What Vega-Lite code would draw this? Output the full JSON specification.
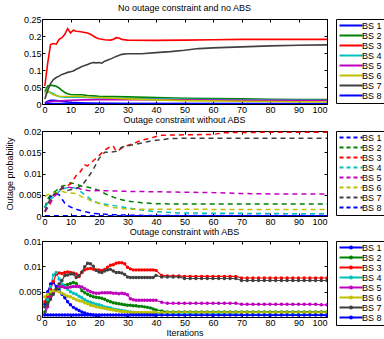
{
"$schema":"https://vega.github.io/schema/vega-lite/v6.json",
"padding":{"left":4,"top":3,"right":0,"bottom":0},
"spacing":0,
"config":{
 "font":"Liberation Sans",
 "view":{"stroke":"black","strokeWidth":1},
 "axis":{"domain":false,"grid":false,"tickColor":"black","tickSize":-3,"labelFontSize":9,"labelColor":"black","labelPadding":4,"titleFontSize":9,"titleFontWeight":"normal","titleColor":"black"},
 "title":{"fontSize":9,"fontWeight":"normal","offset":2,"color":"black","anchor":"middle"},
 "legend":{"orient":"right","offset":8,"padding":2,"strokeColor":"black","strokeWidth":1,"labelFontSize":9,"labelColor":"black","rowPadding":-1,"symbolSize":36,"symbolStrokeWidth":2,"labelOffset":15}
},
"resolve":{"scale":{"color":"independent","x":"independent","y":"independent"},"legend":{"color":"independent"}},
"datasets":{
"p1":[
{"s":1,"i":1,"v":0.003},{"s":1,"i":2,"v":0.008},{"s":1,"i":3,"v":0.011},{"s":1,"i":4,"v":0.011},{"s":1,"i":5,"v":0.01},{"s":1,"i":6,"v":0.009},{"s":1,"i":8,"v":0.007},{"s":1,"i":10,"v":0.005},{"s":1,"i":12,"v":0.004},{"s":1,"i":15,"v":0.003},{"s":1,"i":20,"v":0.002},{"s":1,"i":30,"v":0.0015},{"s":1,"i":100,"v":0.0015},
{"s":2,"i":1,"v":0.036},{"s":2,"i":2,"v":0.053},{"s":2,"i":3,"v":0.055},{"s":2,"i":4,"v":0.054},{"s":2,"i":5,"v":0.052},{"s":2,"i":6,"v":0.047},{"s":2,"i":7,"v":0.04},{"s":2,"i":8,"v":0.034},{"s":2,"i":9,"v":0.03},{"s":2,"i":10,"v":0.028},{"s":2,"i":12,"v":0.027},{"s":2,"i":14,"v":0.027},{"s":2,"i":16,"v":0.025},{"s":2,"i":18,"v":0.024},{"s":2,"i":20,"v":0.023},{"s":2,"i":25,"v":0.022},{"s":2,"i":30,"v":0.021},{"s":2,"i":40,"v":0.019},{"s":2,"i":50,"v":0.017},{"s":2,"i":60,"v":0.016},{"s":2,"i":70,"v":0.015},{"s":2,"i":80,"v":0.014},{"s":2,"i":90,"v":0.013},{"s":2,"i":100,"v":0.013},
{"s":3,"i":1,"v":0.053},{"s":3,"i":2,"v":0.12},{"s":3,"i":3,"v":0.175},{"s":3,"i":4,"v":0.178},{"s":3,"i":5,"v":0.176},{"s":3,"i":6,"v":0.19},{"s":3,"i":7,"v":0.195},{"s":3,"i":8,"v":0.205},{"s":3,"i":9,"v":0.222},{"s":3,"i":10,"v":0.209},{"s":3,"i":11,"v":0.217},{"s":3,"i":12,"v":0.214},{"s":3,"i":13,"v":0.213},{"s":3,"i":14,"v":0.212},{"s":3,"i":16,"v":0.209},{"s":3,"i":17,"v":0.205},{"s":3,"i":18,"v":0.2},{"s":3,"i":19,"v":0.195},{"s":3,"i":20,"v":0.192},{"s":3,"i":22,"v":0.189},{"s":3,"i":24,"v":0.188},{"s":3,"i":25,"v":0.19},{"s":3,"i":26,"v":0.195},{"s":3,"i":27,"v":0.194},{"s":3,"i":28,"v":0.19},{"s":3,"i":30,"v":0.188},{"s":3,"i":40,"v":0.187},{"s":3,"i":50,"v":0.188},{"s":3,"i":60,"v":0.189},{"s":3,"i":70,"v":0.19},{"s":3,"i":100,"v":0.19},
{"s":4,"i":1,"v":0.03},{"s":4,"i":2,"v":0.038},{"s":4,"i":3,"v":0.034},{"s":4,"i":4,"v":0.03},{"s":4,"i":5,"v":0.025},{"s":4,"i":6,"v":0.022},{"s":4,"i":8,"v":0.02},{"s":4,"i":10,"v":0.02},{"s":4,"i":14,"v":0.02},{"s":4,"i":20,"v":0.018},{"s":4,"i":30,"v":0.016},{"s":4,"i":40,"v":0.015},{"s":4,"i":50,"v":0.014},{"s":4,"i":70,"v":0.012},{"s":4,"i":100,"v":0.011},
{"s":5,"i":1,"v":0.003},{"s":5,"i":2,"v":0.005},{"s":5,"i":3,"v":0.007},{"s":5,"i":4,"v":0.008},{"s":5,"i":5,"v":0.009},{"s":5,"i":6,"v":0.009},{"s":5,"i":8,"v":0.01},{"s":5,"i":10,"v":0.011},{"s":5,"i":14,"v":0.012},{"s":5,"i":20,"v":0.013},{"s":5,"i":30,"v":0.013},{"s":5,"i":40,"v":0.013},{"s":5,"i":50,"v":0.012},{"s":5,"i":70,"v":0.011},{"s":5,"i":100,"v":0.0105},
{"s":6,"i":1,"v":0.03},{"s":6,"i":2,"v":0.04},{"s":6,"i":3,"v":0.032},{"s":6,"i":4,"v":0.027},{"s":6,"i":5,"v":0.025},{"s":6,"i":6,"v":0.023},{"s":6,"i":8,"v":0.022},{"s":6,"i":10,"v":0.022},{"s":6,"i":12,"v":0.023},{"s":6,"i":14,"v":0.022},{"s":6,"i":16,"v":0.02},{"s":6,"i":20,"v":0.019},{"s":6,"i":30,"v":0.015},{"s":6,"i":40,"v":0.012},{"s":6,"i":50,"v":0.01},{"s":6,"i":70,"v":0.008},{"s":6,"i":100,"v":0.006},
{"s":7,"i":1,"v":0.015},{"s":7,"i":2,"v":0.04},{"s":7,"i":3,"v":0.06},{"s":7,"i":4,"v":0.072},{"s":7,"i":5,"v":0.078},{"s":7,"i":6,"v":0.082},{"s":7,"i":7,"v":0.087},{"s":7,"i":8,"v":0.09},{"s":7,"i":9,"v":0.093},{"s":7,"i":10,"v":0.095},{"s":7,"i":11,"v":0.097},{"s":7,"i":12,"v":0.102},{"s":7,"i":13,"v":0.106},{"s":7,"i":14,"v":0.11},{"s":7,"i":15,"v":0.113},{"s":7,"i":16,"v":0.116},{"s":7,"i":17,"v":0.12},{"s":7,"i":18,"v":0.122},{"s":7,"i":19,"v":0.121},{"s":7,"i":20,"v":0.122},{"s":7,"i":21,"v":0.12},{"s":7,"i":22,"v":0.126},{"s":7,"i":24,"v":0.132},{"s":7,"i":26,"v":0.14},{"s":7,"i":28,"v":0.146},{"s":7,"i":30,"v":0.148},{"s":7,"i":35,"v":0.148},{"s":7,"i":40,"v":0.151},{"s":7,"i":45,"v":0.154},{"s":7,"i":50,"v":0.158},{"s":7,"i":55,"v":0.163},{"s":7,"i":60,"v":0.165},{"s":7,"i":70,"v":0.168},{"s":7,"i":80,"v":0.171},{"s":7,"i":90,"v":0.173},{"s":7,"i":100,"v":0.174},
{"s":8,"i":1,"v":0.001},{"s":8,"i":10,"v":0.001},{"s":8,"i":100,"v":0.0008}
],
"p2":[
{"s":1,"i":1,"v":0.002},{"s":1,"i":2,"v":0.0035},{"s":1,"i":3,"v":0.0045},{"s":1,"i":4,"v":0.005},{"s":1,"i":5,"v":0.0052},{"s":1,"i":6,"v":0.005},{"s":1,"i":7,"v":0.004},{"s":1,"i":8,"v":0.003},{"s":1,"i":9,"v":0.0025},{"s":1,"i":10,"v":0.0021},{"s":1,"i":12,"v":0.0016},{"s":1,"i":14,"v":0.0012},{"s":1,"i":16,"v":0.0009},{"s":1,"i":18,"v":0.0006},{"s":1,"i":20,"v":0.0005},{"s":1,"i":25,"v":0.0003},{"s":1,"i":30,"v":0.0002},{"s":1,"i":40,"v":0.0001},{"s":1,"i":100,"v":0.0001},
{"s":2,"i":1,"v":0.002},{"s":2,"i":2,"v":0.004},{"s":2,"i":3,"v":0.005},{"s":2,"i":4,"v":0.0055},{"s":2,"i":5,"v":0.006},{"s":2,"i":6,"v":0.0065},{"s":2,"i":7,"v":0.007},{"s":2,"i":8,"v":0.0072},{"s":2,"i":9,"v":0.0075},{"s":2,"i":10,"v":0.0078},{"s":2,"i":12,"v":0.0075},{"s":2,"i":14,"v":0.007},{"s":2,"i":16,"v":0.0068},{"s":2,"i":18,"v":0.0065},{"s":2,"i":20,"v":0.006},{"s":2,"i":22,"v":0.0053},{"s":2,"i":24,"v":0.0047},{"s":2,"i":26,"v":0.0042},{"s":2,"i":28,"v":0.0038},{"s":2,"i":30,"v":0.0035},{"s":2,"i":35,"v":0.0031},{"s":2,"i":40,"v":0.0029},{"s":2,"i":50,"v":0.0028},{"s":2,"i":100,"v":0.0028},
{"s":3,"i":1,"v":0.001},{"s":3,"i":2,"v":0.002},{"s":3,"i":3,"v":0.003},{"s":3,"i":4,"v":0.0045},{"s":3,"i":5,"v":0.0053},{"s":3,"i":6,"v":0.006},{"s":3,"i":7,"v":0.0066},{"s":3,"i":8,"v":0.007},{"s":3,"i":9,"v":0.0072},{"s":3,"i":10,"v":0.0075},{"s":3,"i":11,"v":0.0085},{"s":3,"i":12,"v":0.0095},{"s":3,"i":13,"v":0.01},{"s":3,"i":14,"v":0.011},{"s":3,"i":15,"v":0.012},{"s":3,"i":16,"v":0.0118},{"s":3,"i":17,"v":0.0125},{"s":3,"i":18,"v":0.013},{"s":3,"i":20,"v":0.0142},{"s":3,"i":22,"v":0.0155},{"s":3,"i":24,"v":0.0163},{"s":3,"i":25,"v":0.0165},{"s":3,"i":26,"v":0.0152},{"s":3,"i":27,"v":0.0155},{"s":3,"i":28,"v":0.016},{"s":3,"i":30,"v":0.0166},{"s":3,"i":32,"v":0.017},{"s":3,"i":34,"v":0.0176},{"s":3,"i":36,"v":0.018},{"s":3,"i":38,"v":0.0183},{"s":3,"i":40,"v":0.0187},{"s":3,"i":42,"v":0.019},{"s":3,"i":50,"v":0.0191},{"s":3,"i":60,"v":0.0192},{"s":3,"i":64,"v":0.0196},{"s":3,"i":80,"v":0.0197},{"s":3,"i":100,"v":0.0197},
{"s":4,"i":1,"v":0.002},{"s":4,"i":2,"v":0.003},{"s":4,"i":3,"v":0.004},{"s":4,"i":4,"v":0.0045},{"s":4,"i":5,"v":0.005},{"s":4,"i":6,"v":0.0058},{"s":4,"i":7,"v":0.0062},{"s":4,"i":8,"v":0.0065},{"s":4,"i":10,"v":0.0068},{"s":4,"i":12,"v":0.0065},{"s":4,"i":14,"v":0.0055},{"s":4,"i":16,"v":0.0045},{"s":4,"i":18,"v":0.0035},{"s":4,"i":20,"v":0.003},{"s":4,"i":25,"v":0.0025},{"s":4,"i":30,"v":0.0019},{"s":4,"i":35,"v":0.0014},{"s":4,"i":40,"v":0.001},{"s":4,"i":45,"v":0.0008},{"s":4,"i":50,"v":0.0007},{"s":4,"i":100,"v":0.0005},
{"s":5,"i":1,"v":0.001},{"s":5,"i":2,"v":0.002},{"s":5,"i":3,"v":0.0035},{"s":5,"i":4,"v":0.0045},{"s":5,"i":5,"v":0.005},{"s":5,"i":6,"v":0.0058},{"s":5,"i":7,"v":0.0065},{"s":5,"i":8,"v":0.007},{"s":5,"i":9,"v":0.0068},{"s":5,"i":10,"v":0.0067},{"s":5,"i":12,"v":0.0066},{"s":5,"i":14,"v":0.0063},{"s":5,"i":16,"v":0.006},{"s":5,"i":18,"v":0.0059},{"s":5,"i":20,"v":0.006},{"s":5,"i":25,"v":0.0059},{"s":5,"i":30,"v":0.0058},{"s":5,"i":40,"v":0.0057},{"s":5,"i":50,"v":0.0056},{"s":5,"i":60,"v":0.0055},{"s":5,"i":70,"v":0.0053},{"s":5,"i":80,"v":0.0052},{"s":5,"i":100,"v":0.0052},
{"s":6,"i":1,"v":0.0045},{"s":6,"i":2,"v":0.005},{"s":6,"i":3,"v":0.0052},{"s":6,"i":4,"v":0.0054},{"s":6,"i":5,"v":0.0055},{"s":6,"i":6,"v":0.0057},{"s":6,"i":7,"v":0.0058},{"s":6,"i":8,"v":0.0056},{"s":6,"i":9,"v":0.0055},{"s":6,"i":10,"v":0.0054},{"s":6,"i":12,"v":0.0053},{"s":6,"i":14,"v":0.0045},{"s":6,"i":16,"v":0.004},{"s":6,"i":18,"v":0.0033},{"s":6,"i":20,"v":0.003},{"s":6,"i":22,"v":0.0025},{"s":6,"i":25,"v":0.002},{"s":6,"i":30,"v":0.0016},{"s":6,"i":100,"v":0.0015},
{"s":7,"i":1,"v":0.001},{"s":7,"i":2,"v":0.003},{"s":7,"i":3,"v":0.004},{"s":7,"i":4,"v":0.005},{"s":7,"i":5,"v":0.0055},{"s":7,"i":6,"v":0.006},{"s":7,"i":7,"v":0.0065},{"s":7,"i":8,"v":0.0065},{"s":7,"i":9,"v":0.006},{"s":7,"i":10,"v":0.0062},{"s":7,"i":12,"v":0.0065},{"s":7,"i":14,"v":0.0072},{"s":7,"i":16,"v":0.0089},{"s":7,"i":18,"v":0.011},{"s":7,"i":20,"v":0.0135},{"s":7,"i":22,"v":0.015},{"s":7,"i":24,"v":0.015},{"s":7,"i":26,"v":0.0152},{"s":7,"i":28,"v":0.0162},{"s":7,"i":30,"v":0.0165},{"s":7,"i":35,"v":0.0172},{"s":7,"i":38,"v":0.0176},{"s":7,"i":40,"v":0.0178},{"s":7,"i":45,"v":0.0182},{"s":7,"i":50,"v":0.0183},{"s":7,"i":100,"v":0.0183},
{"s":8,"i":1,"v":0.00005},{"s":8,"i":100,"v":0.00005}
],
"p3":[
{"s":1,"i":1,"v":0.0025},{"s":1,"i":2,"v":0.005},{"s":1,"i":3,"v":0.0065},{"s":1,"i":4,"v":0.0068},{"s":1,"i":5,"v":0.006},{"s":1,"i":6,"v":0.0054},{"s":1,"i":7,"v":0.0045},{"s":1,"i":8,"v":0.0038},{"s":1,"i":9,"v":0.003},{"s":1,"i":10,"v":0.0024},{"s":1,"i":11,"v":0.0019},{"s":1,"i":12,"v":0.0016},{"s":1,"i":13,"v":0.0013},{"s":1,"i":14,"v":0.001},{"s":1,"i":15,"v":0.0008},{"s":1,"i":16,"v":0.0006},{"s":1,"i":17,"v":0.0005},{"s":1,"i":18,"v":0.0004},{"s":1,"i":19,"v":0.0003},{"s":1,"i":20,"v":0.0003},{"s":1,"i":30,"v":0.0003},{"s":1,"i":40,"v":0.0003},{"s":1,"i":60,"v":0.0003},{"s":1,"i":80,"v":0.0003},{"s":1,"i":100,"v":0.0003},
{"s":2,"i":1,"v":0.001},{"s":2,"i":2,"v":0.003},{"s":2,"i":3,"v":0.0045},{"s":2,"i":4,"v":0.0052},{"s":2,"i":5,"v":0.0055},{"s":2,"i":6,"v":0.0058},{"s":2,"i":7,"v":0.006},{"s":2,"i":8,"v":0.0062},{"s":2,"i":9,"v":0.0064},{"s":2,"i":10,"v":0.0066},{"s":2,"i":11,"v":0.0068},{"s":2,"i":12,"v":0.0066},{"s":2,"i":13,"v":0.006},{"s":2,"i":14,"v":0.0052},{"s":2,"i":15,"v":0.0048},{"s":2,"i":16,"v":0.0045},{"s":2,"i":17,"v":0.0042},{"s":2,"i":18,"v":0.004},{"s":2,"i":19,"v":0.0039},{"s":2,"i":20,"v":0.0038},{"s":2,"i":21,"v":0.0037},{"s":2,"i":22,"v":0.0035},{"s":2,"i":23,"v":0.0032},{"s":2,"i":24,"v":0.003},{"s":2,"i":25,"v":0.0028},{"s":2,"i":26,"v":0.0027},{"s":2,"i":27,"v":0.0026},{"s":2,"i":28,"v":0.0025},{"s":2,"i":29,"v":0.0024},{"s":2,"i":30,"v":0.0023},{"s":2,"i":31,"v":0.0023},{"s":2,"i":32,"v":0.0022},{"s":2,"i":33,"v":0.0022},{"s":2,"i":34,"v":0.0021},{"s":2,"i":35,"v":0.0021},{"s":2,"i":36,"v":0.002},{"s":2,"i":37,"v":0.0019},{"s":2,"i":38,"v":0.0018},{"s":2,"i":39,"v":0.0016},{"s":2,"i":40,"v":0.0014},{"s":2,"i":42,"v":0.0012},{"s":2,"i":44,"v":0.001},{"s":2,"i":46,"v":0.001},{"s":2,"i":48,"v":0.001},{"s":2,"i":50,"v":0.001},{"s":2,"i":52,"v":0.001},{"s":2,"i":54,"v":0.001},{"s":2,"i":56,"v":0.001},{"s":2,"i":58,"v":0.001},{"s":2,"i":60,"v":0.001},{"s":2,"i":62,"v":0.001},{"s":2,"i":64,"v":0.001},{"s":2,"i":66,"v":0.001},{"s":2,"i":68,"v":0.001},{"s":2,"i":70,"v":0.001},{"s":2,"i":72,"v":0.001},{"s":2,"i":74,"v":0.001},{"s":2,"i":76,"v":0.001},{"s":2,"i":78,"v":0.001},{"s":2,"i":80,"v":0.001},{"s":2,"i":82,"v":0.001},{"s":2,"i":84,"v":0.001},{"s":2,"i":86,"v":0.001},{"s":2,"i":88,"v":0.001},{"s":2,"i":90,"v":0.001},{"s":2,"i":92,"v":0.001},{"s":2,"i":94,"v":0.001},{"s":2,"i":96,"v":0.001},{"s":2,"i":98,"v":0.001},{"s":2,"i":100,"v":0.001},
{"s":3,"i":1,"v":0.003},{"s":3,"i":2,"v":0.004},{"s":3,"i":3,"v":0.0055},{"s":3,"i":4,"v":0.007},{"s":3,"i":5,"v":0.0085},{"s":3,"i":6,"v":0.0087},{"s":3,"i":7,"v":0.0086},{"s":3,"i":8,"v":0.0088},{"s":3,"i":9,"v":0.0089},{"s":3,"i":10,"v":0.0088},{"s":3,"i":11,"v":0.0087},{"s":3,"i":12,"v":0.0085},{"s":3,"i":13,"v":0.008},{"s":3,"i":14,"v":0.0088},{"s":3,"i":15,"v":0.0093},{"s":3,"i":16,"v":0.0095},{"s":3,"i":17,"v":0.0096},{"s":3,"i":18,"v":0.0094},{"s":3,"i":19,"v":0.0093},{"s":3,"i":20,"v":0.0093},{"s":3,"i":21,"v":0.0092},{"s":3,"i":22,"v":0.0094},{"s":3,"i":23,"v":0.0098},{"s":3,"i":24,"v":0.0102},{"s":3,"i":25,"v":0.0103},{"s":3,"i":26,"v":0.0106},{"s":3,"i":27,"v":0.0107},{"s":3,"i":28,"v":0.0107},{"s":3,"i":29,"v":0.0105},{"s":3,"i":30,"v":0.0098},{"s":3,"i":31,"v":0.0095},{"s":3,"i":32,"v":0.0093},{"s":3,"i":33,"v":0.0093},{"s":3,"i":34,"v":0.0093},{"s":3,"i":35,"v":0.0093},{"s":3,"i":36,"v":0.0093},{"s":3,"i":37,"v":0.0093},{"s":3,"i":38,"v":0.0093},{"s":3,"i":39,"v":0.0093},{"s":3,"i":40,"v":0.0092},{"s":3,"i":42,"v":0.0082},{"s":3,"i":44,"v":0.0081},{"s":3,"i":46,"v":0.0081},{"s":3,"i":48,"v":0.0081},{"s":3,"i":50,"v":0.008},{"s":3,"i":52,"v":0.008},{"s":3,"i":54,"v":0.008},{"s":3,"i":56,"v":0.008},{"s":3,"i":58,"v":0.008},{"s":3,"i":60,"v":0.008},{"s":3,"i":62,"v":0.008},{"s":3,"i":64,"v":0.008},{"s":3,"i":66,"v":0.008},{"s":3,"i":68,"v":0.008},{"s":3,"i":70,"v":0.0077},{"s":3,"i":72,"v":0.0077},{"s":3,"i":74,"v":0.0077},{"s":3,"i":76,"v":0.0077},{"s":3,"i":78,"v":0.0077},{"s":3,"i":80,"v":0.0077},{"s":3,"i":82,"v":0.0077},{"s":3,"i":84,"v":0.0077},{"s":3,"i":86,"v":0.0077},{"s":3,"i":88,"v":0.0077},{"s":3,"i":90,"v":0.0077},{"s":3,"i":92,"v":0.0077},{"s":3,"i":94,"v":0.0077},{"s":3,"i":96,"v":0.0077},{"s":3,"i":98,"v":0.0077},{"s":3,"i":100,"v":0.0077},
{"s":4,"i":1,"v":0.002},{"s":4,"i":2,"v":0.0035},{"s":4,"i":3,"v":0.006},{"s":4,"i":4,"v":0.0083},{"s":4,"i":5,"v":0.0088},{"s":4,"i":6,"v":0.0075},{"s":4,"i":7,"v":0.0065},{"s":4,"i":8,"v":0.006},{"s":4,"i":9,"v":0.0055},{"s":4,"i":10,"v":0.005},{"s":4,"i":11,"v":0.0047},{"s":4,"i":12,"v":0.0045},{"s":4,"i":13,"v":0.0041},{"s":4,"i":14,"v":0.0038},{"s":4,"i":15,"v":0.0034},{"s":4,"i":16,"v":0.0031},{"s":4,"i":17,"v":0.0029},{"s":4,"i":18,"v":0.0027},{"s":4,"i":19,"v":0.0025},{"s":4,"i":20,"v":0.0024},{"s":4,"i":21,"v":0.0022},{"s":4,"i":22,"v":0.002},{"s":4,"i":23,"v":0.0019},{"s":4,"i":24,"v":0.0018},{"s":4,"i":25,"v":0.0016},{"s":4,"i":26,"v":0.0015},{"s":4,"i":27,"v":0.0014},{"s":4,"i":28,"v":0.0013},{"s":4,"i":29,"v":0.0012},{"s":4,"i":30,"v":0.0011},{"s":4,"i":31,"v":0.001},{"s":4,"i":32,"v":0.0009},{"s":4,"i":33,"v":0.0008},{"s":4,"i":34,"v":0.0008},{"s":4,"i":35,"v":0.0007},{"s":4,"i":36,"v":0.0007},{"s":4,"i":37,"v":0.0007},{"s":4,"i":38,"v":0.0007},{"s":4,"i":39,"v":0.0007},{"s":4,"i":40,"v":0.0007},{"s":4,"i":42,"v":0.0006},{"s":4,"i":44,"v":0.0006},{"s":4,"i":46,"v":0.0006},{"s":4,"i":48,"v":0.0006},{"s":4,"i":50,"v":0.0006},{"s":4,"i":52,"v":0.0006},{"s":4,"i":54,"v":0.0006},{"s":4,"i":56,"v":0.0006},{"s":4,"i":58,"v":0.0006},{"s":4,"i":60,"v":0.0006},{"s":4,"i":62,"v":0.0006},{"s":4,"i":64,"v":0.0006},{"s":4,"i":66,"v":0.0006},{"s":4,"i":68,"v":0.0006},{"s":4,"i":70,"v":0.0005},{"s":4,"i":72,"v":0.0005},{"s":4,"i":74,"v":0.0005},{"s":4,"i":76,"v":0.0005},{"s":4,"i":78,"v":0.0005},{"s":4,"i":80,"v":0.0005},{"s":4,"i":82,"v":0.0005},{"s":4,"i":84,"v":0.0005},{"s":4,"i":86,"v":0.0005},{"s":4,"i":88,"v":0.0005},{"s":4,"i":90,"v":0.0005},{"s":4,"i":92,"v":0.0005},{"s":4,"i":94,"v":0.0005},{"s":4,"i":96,"v":0.0005},{"s":4,"i":98,"v":0.0005},{"s":4,"i":100,"v":0.0005},
{"s":5,"i":1,"v":0.0005},{"s":5,"i":2,"v":0.002},{"s":5,"i":3,"v":0.004},{"s":5,"i":4,"v":0.005},{"s":5,"i":5,"v":0.0055},{"s":5,"i":6,"v":0.006},{"s":5,"i":7,"v":0.006},{"s":5,"i":8,"v":0.0058},{"s":5,"i":9,"v":0.0058},{"s":5,"i":10,"v":0.0059},{"s":5,"i":11,"v":0.006},{"s":5,"i":12,"v":0.006},{"s":5,"i":13,"v":0.006},{"s":5,"i":14,"v":0.0059},{"s":5,"i":15,"v":0.0056},{"s":5,"i":16,"v":0.0053},{"s":5,"i":17,"v":0.005},{"s":5,"i":18,"v":0.0048},{"s":5,"i":19,"v":0.0047},{"s":5,"i":20,"v":0.0047},{"s":5,"i":21,"v":0.0048},{"s":5,"i":22,"v":0.0048},{"s":5,"i":23,"v":0.0048},{"s":5,"i":24,"v":0.0048},{"s":5,"i":25,"v":0.0047},{"s":5,"i":26,"v":0.0047},{"s":5,"i":27,"v":0.0046},{"s":5,"i":28,"v":0.0047},{"s":5,"i":29,"v":0.0046},{"s":5,"i":30,"v":0.0044},{"s":5,"i":31,"v":0.0036},{"s":5,"i":32,"v":0.0034},{"s":5,"i":33,"v":0.0033},{"s":5,"i":34,"v":0.0033},{"s":5,"i":35,"v":0.0033},{"s":5,"i":36,"v":0.0033},{"s":5,"i":37,"v":0.0033},{"s":5,"i":38,"v":0.0033},{"s":5,"i":39,"v":0.0033},{"s":5,"i":40,"v":0.0033},{"s":5,"i":42,"v":0.0029},{"s":5,"i":44,"v":0.0027},{"s":5,"i":46,"v":0.0027},{"s":5,"i":48,"v":0.0027},{"s":5,"i":50,"v":0.0027},{"s":5,"i":52,"v":0.0027},{"s":5,"i":54,"v":0.0027},{"s":5,"i":56,"v":0.0027},{"s":5,"i":58,"v":0.0027},{"s":5,"i":60,"v":0.0027},{"s":5,"i":62,"v":0.0027},{"s":5,"i":64,"v":0.0027},{"s":5,"i":66,"v":0.0027},{"s":5,"i":68,"v":0.0027},{"s":5,"i":70,"v":0.0025},{"s":5,"i":72,"v":0.0025},{"s":5,"i":74,"v":0.0025},{"s":5,"i":76,"v":0.0025},{"s":5,"i":78,"v":0.0025},{"s":5,"i":80,"v":0.0025},{"s":5,"i":82,"v":0.0025},{"s":5,"i":84,"v":0.0025},{"s":5,"i":86,"v":0.0025},{"s":5,"i":88,"v":0.0025},{"s":5,"i":90,"v":0.0025},{"s":5,"i":92,"v":0.0025},{"s":5,"i":94,"v":0.0025},{"s":5,"i":96,"v":0.0025},{"s":5,"i":98,"v":0.0024},{"s":5,"i":100,"v":0.0024},
{"s":6,"i":1,"v":0.004},{"s":6,"i":2,"v":0.0045},{"s":6,"i":3,"v":0.005},{"s":6,"i":4,"v":0.0052},{"s":6,"i":5,"v":0.0052},{"s":6,"i":6,"v":0.005},{"s":6,"i":7,"v":0.0047},{"s":6,"i":8,"v":0.0044},{"s":6,"i":9,"v":0.0041},{"s":6,"i":10,"v":0.004},{"s":6,"i":11,"v":0.0037},{"s":6,"i":12,"v":0.0034},{"s":6,"i":13,"v":0.0032},{"s":6,"i":14,"v":0.0031},{"s":6,"i":15,"v":0.0028},{"s":6,"i":16,"v":0.0026},{"s":6,"i":17,"v":0.0023},{"s":6,"i":18,"v":0.0022},{"s":6,"i":19,"v":0.002},{"s":6,"i":20,"v":0.0019},{"s":6,"i":21,"v":0.0018},{"s":6,"i":22,"v":0.0017},{"s":6,"i":23,"v":0.0016},{"s":6,"i":24,"v":0.0015},{"s":6,"i":25,"v":0.0014},{"s":6,"i":26,"v":0.0013},{"s":6,"i":27,"v":0.0012},{"s":6,"i":28,"v":0.0011},{"s":6,"i":29,"v":0.0011},{"s":6,"i":30,"v":0.001},{"s":6,"i":31,"v":0.0009},{"s":6,"i":32,"v":0.0009},{"s":6,"i":33,"v":0.0009},{"s":6,"i":34,"v":0.0009},{"s":6,"i":35,"v":0.0009},{"s":6,"i":36,"v":0.0009},{"s":6,"i":37,"v":0.0009},{"s":6,"i":38,"v":0.0009},{"s":6,"i":39,"v":0.0009},{"s":6,"i":40,"v":0.0009},{"s":6,"i":42,"v":0.0009},{"s":6,"i":44,"v":0.0009},{"s":6,"i":46,"v":0.0009},{"s":6,"i":48,"v":0.0009},{"s":6,"i":50,"v":0.0009},{"s":6,"i":52,"v":0.0009},{"s":6,"i":54,"v":0.0009},{"s":6,"i":56,"v":0.0009},{"s":6,"i":58,"v":0.0009},{"s":6,"i":60,"v":0.0009},{"s":6,"i":62,"v":0.0009},{"s":6,"i":64,"v":0.0009},{"s":6,"i":66,"v":0.0009},{"s":6,"i":68,"v":0.0009},{"s":6,"i":70,"v":0.0009},{"s":6,"i":72,"v":0.0009},{"s":6,"i":74,"v":0.0009},{"s":6,"i":76,"v":0.0009},{"s":6,"i":78,"v":0.0009},{"s":6,"i":80,"v":0.0009},{"s":6,"i":82,"v":0.0009},{"s":6,"i":84,"v":0.0009},{"s":6,"i":86,"v":0.0009},{"s":6,"i":88,"v":0.0009},{"s":6,"i":90,"v":0.0009},{"s":6,"i":92,"v":0.0009},{"s":6,"i":94,"v":0.0009},{"s":6,"i":96,"v":0.0009},{"s":6,"i":98,"v":0.0009},{"s":6,"i":100,"v":0.0009},
{"s":7,"i":1,"v":0.002},{"s":7,"i":2,"v":0.0025},{"s":7,"i":3,"v":0.0035},{"s":7,"i":4,"v":0.0045},{"s":7,"i":5,"v":0.0055},{"s":7,"i":6,"v":0.0065},{"s":7,"i":7,"v":0.0072},{"s":7,"i":8,"v":0.0082},{"s":7,"i":9,"v":0.0083},{"s":7,"i":10,"v":0.0085},{"s":7,"i":11,"v":0.0085},{"s":7,"i":12,"v":0.0078},{"s":7,"i":13,"v":0.0082},{"s":7,"i":14,"v":0.0089},{"s":7,"i":15,"v":0.0099},{"s":7,"i":16,"v":0.0106},{"s":7,"i":17,"v":0.0105},{"s":7,"i":18,"v":0.01},{"s":7,"i":19,"v":0.0092},{"s":7,"i":20,"v":0.0089},{"s":7,"i":21,"v":0.0088},{"s":7,"i":22,"v":0.0091},{"s":7,"i":23,"v":0.0093},{"s":7,"i":24,"v":0.0094},{"s":7,"i":25,"v":0.0091},{"s":7,"i":26,"v":0.0088},{"s":7,"i":27,"v":0.0088},{"s":7,"i":28,"v":0.0087},{"s":7,"i":29,"v":0.0084},{"s":7,"i":30,"v":0.0079},{"s":7,"i":31,"v":0.0078},{"s":7,"i":32,"v":0.0078},{"s":7,"i":33,"v":0.0078},{"s":7,"i":34,"v":0.0078},{"s":7,"i":35,"v":0.0078},{"s":7,"i":36,"v":0.0078},{"s":7,"i":37,"v":0.0078},{"s":7,"i":38,"v":0.0078},{"s":7,"i":39,"v":0.0078},{"s":7,"i":40,"v":0.0082},{"s":7,"i":42,"v":0.0079},{"s":7,"i":44,"v":0.0079},{"s":7,"i":46,"v":0.0079},{"s":7,"i":48,"v":0.0079},{"s":7,"i":50,"v":0.0076},{"s":7,"i":52,"v":0.0076},{"s":7,"i":54,"v":0.0076},{"s":7,"i":56,"v":0.0076},{"s":7,"i":58,"v":0.0076},{"s":7,"i":60,"v":0.0076},{"s":7,"i":62,"v":0.0076},{"s":7,"i":64,"v":0.0076},{"s":7,"i":66,"v":0.0076},{"s":7,"i":68,"v":0.0076},{"s":7,"i":70,"v":0.0072},{"s":7,"i":72,"v":0.0072},{"s":7,"i":74,"v":0.0072},{"s":7,"i":76,"v":0.0072},{"s":7,"i":78,"v":0.0072},{"s":7,"i":80,"v":0.0072},{"s":7,"i":82,"v":0.0072},{"s":7,"i":84,"v":0.0072},{"s":7,"i":86,"v":0.0072},{"s":7,"i":88,"v":0.0072},{"s":7,"i":90,"v":0.0072},{"s":7,"i":92,"v":0.0072},{"s":7,"i":94,"v":0.0072},{"s":7,"i":96,"v":0.0072},{"s":7,"i":98,"v":0.0072},{"s":7,"i":100,"v":0.0072},
{"s":8,"i":1,"v":0.0004},{"s":8,"i":2,"v":0.0004},{"s":8,"i":3,"v":0.0004},{"s":8,"i":4,"v":0.0004},{"s":8,"i":5,"v":0.0004},{"s":8,"i":6,"v":0.0004},{"s":8,"i":7,"v":0.0004},{"s":8,"i":8,"v":0.0004},{"s":8,"i":9,"v":0.0004},{"s":8,"i":10,"v":0.0004},{"s":8,"i":11,"v":0.0004},{"s":8,"i":12,"v":0.0004},{"s":8,"i":13,"v":0.0004},{"s":8,"i":14,"v":0.0004},{"s":8,"i":15,"v":0.0004},{"s":8,"i":16,"v":0.0004},{"s":8,"i":17,"v":0.0004},{"s":8,"i":18,"v":0.0004},{"s":8,"i":19,"v":0.0004},{"s":8,"i":20,"v":0.0004},{"s":8,"i":21,"v":0.0004},{"s":8,"i":22,"v":0.0004},{"s":8,"i":23,"v":0.0004},{"s":8,"i":24,"v":0.0004},{"s":8,"i":25,"v":0.0004},{"s":8,"i":26,"v":0.0004},{"s":8,"i":27,"v":0.0004},{"s":8,"i":28,"v":0.0004},{"s":8,"i":29,"v":0.0004},{"s":8,"i":30,"v":0.0004},{"s":8,"i":31,"v":0.0004},{"s":8,"i":32,"v":0.0004},{"s":8,"i":33,"v":0.0004},{"s":8,"i":34,"v":0.0004},{"s":8,"i":35,"v":0.0004},{"s":8,"i":36,"v":0.0004},{"s":8,"i":37,"v":0.0004},{"s":8,"i":38,"v":0.0004},{"s":8,"i":39,"v":0.0004},{"s":8,"i":40,"v":0.0004},{"s":8,"i":42,"v":0.0004},{"s":8,"i":44,"v":0.0004},{"s":8,"i":46,"v":0.0004},{"s":8,"i":48,"v":0.0004},{"s":8,"i":50,"v":0.0004},{"s":8,"i":52,"v":0.0004},{"s":8,"i":54,"v":0.0004},{"s":8,"i":56,"v":0.0004},{"s":8,"i":58,"v":0.0004},{"s":8,"i":60,"v":0.0004},{"s":8,"i":62,"v":0.0004},{"s":8,"i":64,"v":0.0004},{"s":8,"i":66,"v":0.0004},{"s":8,"i":68,"v":0.0004},{"s":8,"i":70,"v":0.0004},{"s":8,"i":72,"v":0.0004},{"s":8,"i":74,"v":0.0004},{"s":8,"i":76,"v":0.0004},{"s":8,"i":78,"v":0.0004},{"s":8,"i":80,"v":0.0004},{"s":8,"i":82,"v":0.0004},{"s":8,"i":84,"v":0.0004},{"s":8,"i":86,"v":0.0004},{"s":8,"i":88,"v":0.0004},{"s":8,"i":90,"v":0.0004},{"s":8,"i":92,"v":0.0004},{"s":8,"i":94,"v":0.0004},{"s":8,"i":96,"v":0.0004},{"s":8,"i":98,"v":0.0004},{"s":8,"i":100,"v":0.0004}
]
},
"vconcat":[
{
 "width":285,"height":85,
 "title":{"text":"No outage constraint and no ABS"},
 "data":{"name":"p1"},
 "encoding":{
  "x":{"field":"i","type":"quantitative","scale":{"domain":[0,100],"nice":false},"axis":{"values":[0,10,20,30,40,50,60,70,80,90,100],"title":null}},
  "y":{"field":"v","type":"quantitative","scale":{"domain":[0,0.25],"nice":false},"axis":{"values":[0,0.05,0.1,0.15,0.2,0.25],"format":"~g","title":null}},
  "color":{"field":"s","type":"nominal","scale":{"domain":[1,2,3,4,5,6,7,8],"range":["#0000ff","#008000","#ff0000","#00bfbf","#bf00bf","#bfbf00","#404040","#0000ff"]},"legend":{"title":null,"labelExpr":"'BS ' + datum.label","symbolType":"M-1,0H6.7","symbolSize":36}}
 },
 "layer":[
  {"mark":{"type":"line","strokeWidth":1.6,"clip":true}},
  {"mark":{"type":"line","strokeOpacity":0,"clip":true},
   "encoding":{
    "x":{"field":"i","type":"quantitative","axis":{"orient":"top","values":[0,10,20,30,40,50,60,70,80,90,100],"labels":false,"title":null}},
    "y":{"field":"v","type":"quantitative","axis":{"orient":"right","values":[0,0.05,0.1,0.15,0.2,0.25],"labels":false,"title":null}}
   }}
 ],
 "resolve":{"axis":{"x":"independent","y":"independent"}}
},
{
 "width":285,"height":85,
 "title":{"text":"Outage constraint without ABS"},
 "data":{"name":"p2"},
 "encoding":{
  "x":{"field":"i","type":"quantitative","scale":{"domain":[0,100],"nice":false},"axis":{"values":[0,10,20,30,40,50,60,70,80,90,100],"title":null}},
  "y":{"field":"v","type":"quantitative","scale":{"domain":[0,0.02],"nice":false},"axis":{"values":[0,0.005,0.01,0.015,0.02],"format":"~g","title":"Outage probability","titlePadding":4}},
  "color":{"field":"s","type":"nominal","scale":{"domain":[1,2,3,4,5,6,7,8],"range":["#0000ff","#008000","#ff0000","#00bfbf","#bf00bf","#bfbf00","#404040","#0000ff"]},"legend":{"title":null,"labelExpr":"'BS ' + datum.label","symbolType":"M-1,0H6.7","symbolSize":36,"symbolDash":[4,3]}}
 },
 "layer":[
  {"mark":{"type":"line","strokeWidth":1.5,"strokeDash":[5,4],"clip":true}},
  {"mark":{"type":"line","strokeOpacity":0,"clip":true},
   "encoding":{
    "x":{"field":"i","type":"quantitative","axis":{"orient":"top","values":[0,10,20,30,40,50,60,70,80,90,100],"labels":false,"title":null}},
    "y":{"field":"v","type":"quantitative","axis":{"orient":"right","values":[0,0.005,0.01,0.015,0.02],"labels":false,"title":null}}
   }}
 ],
 "resolve":{"axis":{"x":"independent","y":"independent"}}
},
{
 "width":285,"height":76,
 "title":{"text":"Outage constraint with ABS","offset":0},
 "data":{"name":"p3"},
 "encoding":{
  "x":{"field":"i","type":"quantitative","scale":{"domain":[0,100],"nice":false},"axis":{"values":[0,10,20,30,40,50,60,70,80,90,100],"title":"Iterations","titlePadding":1}},
  "y":{"field":"v","type":"quantitative","scale":{"domain":[0,0.015],"nice":false},"axis":{"values":[0,0.005,0.01,0.015],"format":"~g","title":null}}
 },
 "layer":[
  {"mark":{"type":"line","strokeWidth":1.2,"clip":true},
   "encoding":{
    "color":{"field":"s","type":"nominal","scale":{"domain":[1,2,3,4,5,6,7,8],"range":["#0000ff","#008000","#ff0000","#00bfbf","#bf00bf","#bfbf00","#404040","#0000ff"]},"legend":{"title":null,"labelExpr":"'BS ' + datum.label","symbolType":"M-1,0H6.7M2.5,0A0.35,0.35,0,1,1,3.2,0A0.35,0.35,0,1,1,2.5,0","symbolSize":36,"symbolStrokeWidth":2}}
   }},
  {"mark":{"type":"point","filled":true,"size":12,"opacity":1,"clip":true},
   "encoding":{
    "color":{"field":"s","type":"nominal","legend":null},
    "x":{"field":"i","type":"quantitative","axis":{"orient":"top","values":[0,10,20,30,40,50,60,70,80,90,100],"labels":false,"title":null}},
    "y":{"field":"v","type":"quantitative","axis":{"orient":"right","values":[0,0.005,0.01,0.015],"labels":false,"title":null}}
   }}
 ],
 "resolve":{"axis":{"x":"independent","y":"independent"}}
}
]
}
